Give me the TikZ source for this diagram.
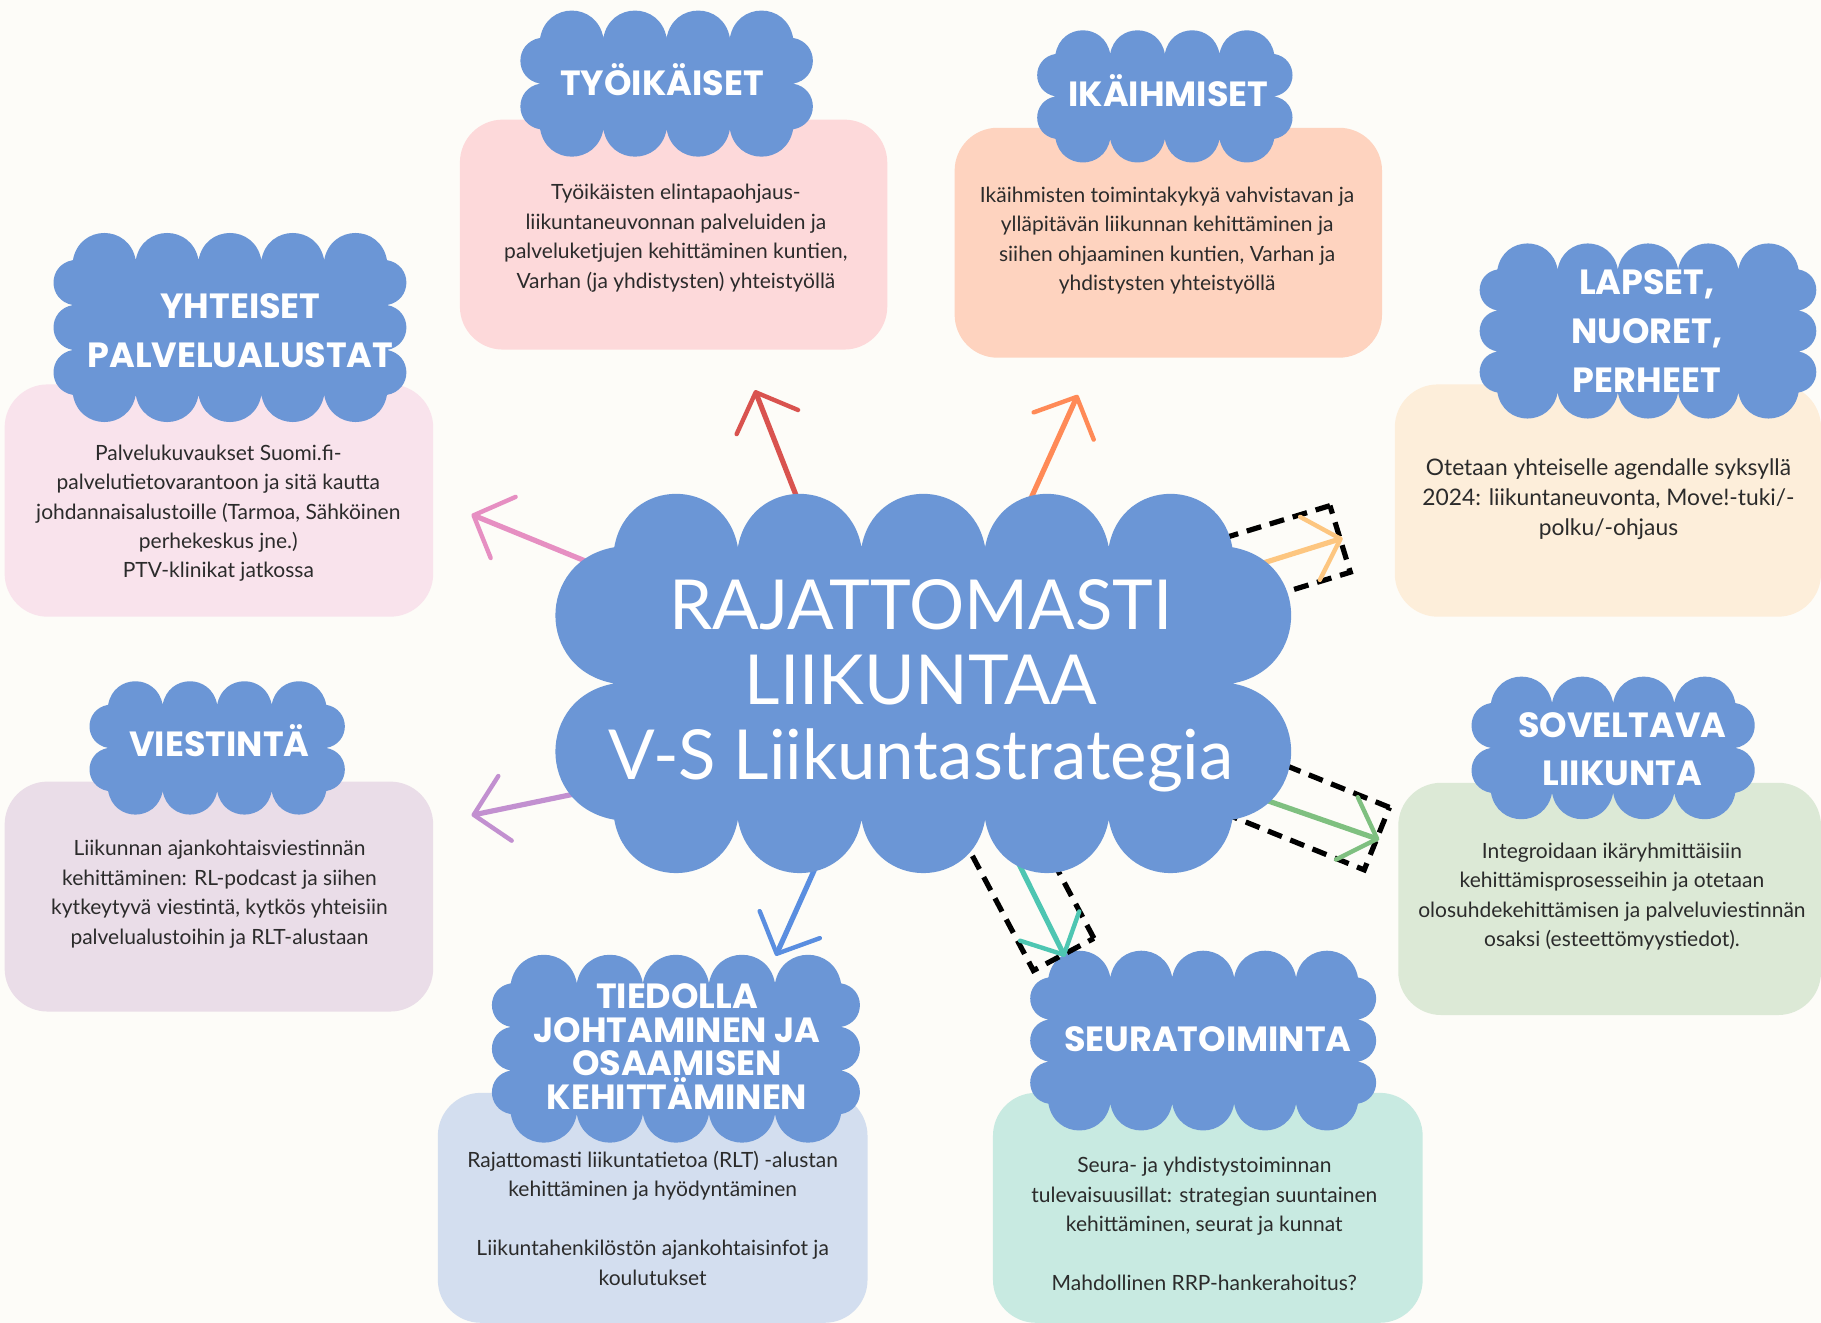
\documentclass[tikz,border=0pt]{standalone}
\usepackage{fontspec}
\setmainfont{Lato}
\newfontfamily\headfont{Poppins}
\usetikzlibrary{arrows.meta}
\definecolor{bg}{HTML}{FDFCF8}
\definecolor{cloudblue}{HTML}{6B96D6}
\definecolor{txt}{HTML}{2B2B2B}
\definecolor{boxA}{HTML}{FDD9DA}
\definecolor{boxB}{HTML}{FED3BF}
\definecolor{boxC}{HTML}{F9E3EC}
\definecolor{boxD}{HTML}{FDEEDA}
\definecolor{boxE}{HTML}{EADDE8}
\definecolor{boxF}{HTML}{DCE9D6}
\definecolor{boxG}{HTML}{D3DEEF}
\definecolor{boxH}{HTML}{C8EAE1}
\definecolor{arRed}{HTML}{D9534F}
\definecolor{arOrange}{HTML}{FF8A57}
\definecolor{arPink}{HTML}{E68FC2}
\definecolor{arLOrange}{HTML}{FDC680}
\definecolor{arGreen}{HTML}{7FC080}
\definecolor{arTeal}{HTML}{4EC6B2}
\definecolor{arPurple}{HTML}{C290D0}
\definecolor{arBlue}{HTML}{5A8EE0}

% cloud: centre x, centre y, extent width, extent height, bumps top, bumps side
\newcommand\drawcloud[6]{%
  \pgfmathsetmacro\ccA{0.868/#6}%
  \pgfmathsetmacro\ccB{0.868/#5}%
  \pgfmathsetmacro\ccH{(#4-\ccB*#3)/(1-\ccA*\ccB)}%
  \pgfmathsetmacro\ccW{#3-\ccA*\ccH}%
  \pgfmathsetmacro\ccL{#1-\ccW/2}%
  \pgfmathsetmacro\ccR{#1+\ccW/2}%
  \pgfmathsetmacro\ccT{#2-\ccH/2}%
  \pgfmathsetmacro\ccD{#2+\ccH/2}%
  \fill[cloudfill] (\ccL,\ccT)
    \foreach \i in {1,...,#5}{ to[puff] ({\ccL+\ccW*\i/#5},\ccT) }
    \foreach \i in {1,...,#6}{ to[puff] (\ccR,{\ccT+\ccH*\i/#6}) }
    \foreach \i in {1,...,#5}{ to[puff] ({\ccR-\ccW*\i/#5},\ccD) }
    \foreach \i in {1,...,#6}{ to[puff] (\ccL,{\ccD-\ccH*\i/#6}) }
    -- cycle;
}

\begin{document}
\begin{tikzpicture}[x=0.5807pt,y=-0.5807pt,
  puff/.style={bend left=80,looseness=1.5},
  cloudfill/.style={fill=cloudblue},
  card/.style={rounded corners=21.5pt},
  body/.style={font=\fontsize{10.5}{14.7}\selectfont, text=txt, align=center, inner sep=0pt},
  head/.style={font=\headfont\bfseries\fontsize{17.5}{24.4}\selectfont, text=white, align=center, inner sep=0pt},
  coretext/.style={font=\fontsize{34.5}{37.7}\selectfont, text=white, align=center, inner sep=0pt},
  arr/.style={line width=2.6pt, line cap=round, -{Straight Barb[length=16pt,width=33pt,line width=2.2pt,round]}},
  dashbox/.style={draw=black, line width=2.6pt, dash pattern=on 7.5pt off 4.5pt, inner sep=0pt}
]
\useasboundingbox (0,0) rectangle (1568,1139);
\fill[bg] (0,0) rectangle (1568,1139);

% cards
\fill[boxA,card] (396,103) rectangle (764,301);
\fill[boxB,card] (822,110) rectangle (1190,308);
\fill[boxC,card] (4,331) rectangle (373,531);
\fill[boxD,card] (1201,331) rectangle (1568,531);
\fill[boxE,card] (4,673) rectangle (373,871);
\fill[boxF,card] (1204,674) rectangle (1568,874);
\fill[boxG,card] (377,941) rectangle (747,1139);
\fill[boxH,card] (855,941) rectangle (1225,1139);

% card texts
\node[body] (tA) at (582,205) {Työikäisten elintapaohjaus-\\liikuntaneuvonnan palveluiden ja\\palveluketjujen kehittäminen kuntien,\\Varhan (ja yhdistysten) yhteistyöllä};
\node[body] (tB) at (1005,207) {Ikäihmisten toimintakykyä vahvistavan ja\\ylläpitävän liikunnan kehittäminen ja\\siihen ohjaaminen kuntien, Varhan ja\\yhdistysten yhteistyöllä};
\node[body] (tC) at (188,442) {Palvelukuvaukset Suomi.fi-\\palvelutietovarantoon ja sitä kautta\\johdannaisalustoille (Tarmoa, Sähköinen\\perhekeskus jne.)\\PTV-klinikat jatkossa};
\node[body, font=\fontsize{11.4}{15}\selectfont] (tD) at (1385,430) {Otetaan yhteiselle agendalle syksyllä\\2024: liikuntaneuvonta, Move!-tuki/-\\polku/-ohjaus};
\node[body] (tE) at (189,770) {Liikunnan ajankohtaisviestinnän\\kehittäminen: RL-podcast ja siihen\\kytkeytyvä viestintä, kytkös yhteisiin\\palvelualustoihin ja RLT-alustaan};
\node[body] (tF) at (1388,772) {Integroidaan ikäryhmittäisiin\\kehittämisprosesseihin ja otetaan\\olosuhdekehittämisen ja palveluviestinnän\\osaksi (esteettömyystiedot).};
\node[body] (tG) at (562,1049) {Rajattomasti liikuntatietoa (RLT) -alustan\\kehittäminen ja hyödyntäminen\\[14.7pt]Liikuntahenkilöstön ajankohtaisinfot ja\\koulutukset};
\node[body] (tH) at (1037,1054) {Seura- ja yhdistystoiminnan\\tulevaisuusillat: strategian suuntainen\\kehittäminen, seurat ja kunnat\\[14.7pt]Mahdollinen RRP-hankerahoitus?};

% heading clouds
\drawcloud{574}{72}{252}{126}{4}{2}
\drawcloud{1003}{83}{220}{114}{4}{2}
\drawcloud{198}{282}{304}{163}{5}{3}
\drawcloud{1419}{285}{290}{151}{5}{3}
\drawcloud{187}{644}{220}{115}{4}{2}
\drawcloud{1389}{644}{244}{123}{4}{2}
\drawcloud{582}{903}{317}{162}{5}{3}
\drawcloud{1036}{896}{298}{155}{5}{3}

\node[head] (hA) at (570,69) {TYÖIKÄISET};
\node[head] (hB) at (1006,78) {IKÄIHMISET};
\node[head] (hC) at (207,285) {YHTEISET\\PALVELUALUSTAT};
\node[head] (hD) at (1418,285) {LAPSET,\\NUORET,\\PERHEET};
\node[head] (hE) at (189,638) {VIESTINTÄ};
\node[head] (hF) at (1397,645) {SOVELTAVA\\LIIKUNTA};
\node[head, font=\headfont\bfseries\fontsize{17.5}{16.8}\selectfont] (hG) at (583,901) {TIEDOLLA\\JOHTAMINEN JA\\OSAAMISEN\\KEHITTÄMINEN};
\node[head] (hH) at (1040,895) {SEURATOIMINTA};

% dashed frames
\node[dashbox, rotate=17, minimum width=81.3pt, minimum height=34.8pt] (dbO) at (1087,484.5) {};
\node[dashbox, rotate=-22, minimum width=87.1pt, minimum height=33.7pt] (dbG) at (1116,694) {};
\node[dashbox, rotate=-62, minimum width=81.3pt, minimum height=34.3pt] (dbT) at (883,760) {};

% arrow ends
\coordinate (sR) at (697,456);   \coordinate (eR) at (650,336);
\coordinate (sO) at (876,455);   \coordinate (eO) at (928,340);
\coordinate (sP) at (565,508);   \coordinate (eP) at (406,443);
\coordinate (sV) at (551,672);   \coordinate (eV) at (406,702);
\coordinate (sB) at (712,725);   \coordinate (eB) at (668,823);
\coordinate (sL) at (1023,505);
\coordinate (sG) at (1047,674);
\coordinate (sT) at (866,721);

\draw[arr, arRed] (sR) -- (eR);
\draw[arr, arOrange] (sO) -- (eO);
\draw[arr, arPink] (sP) -- (eP);
\draw[arr, arPurple] (sV) -- (eV);
\draw[arr, arBlue] (sB) -- (eB);
\draw[arr, arLOrange] (sL) -- (dbO.east);
\draw[arr, arGreen] (sG) -- (dbG.east);
\draw[arr, arTeal] (sT) -- (dbT.east);

% central cloud
\drawcloud{795}{588.5}{634}{327}{5}{2}
\node[coretext] (core) at (793,590.5) {RAJATTOMASTI\\LIIKUNTAA\\V-S Liikuntastrategia};
\end{tikzpicture}
\end{document}
